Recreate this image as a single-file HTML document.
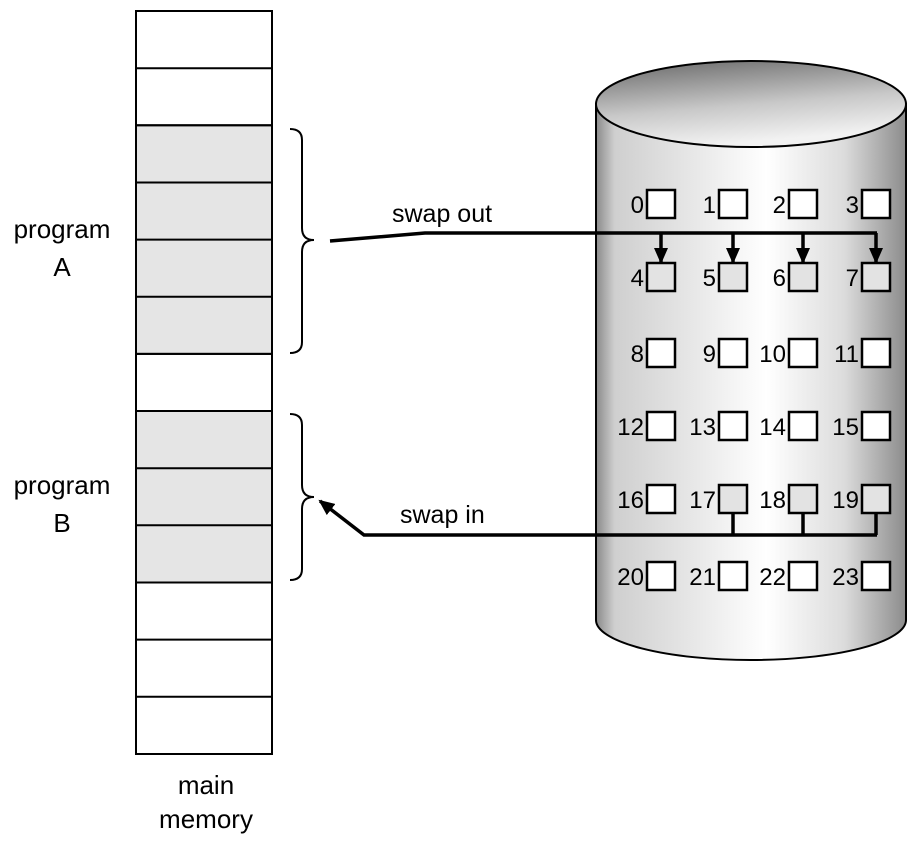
<!DOCTYPE html>
<html><head><style>body{margin:0;background:#fff}</style></head><body>
<svg width="915" height="839" viewBox="0 0 915 839" xmlns="http://www.w3.org/2000/svg" font-family="Liberation Sans, sans-serif">
<defs>
<linearGradient id="body" x1="0" x2="1" y1="0" y2="0">
<stop offset="0" stop-color="#8a8a8a"/><stop offset="0.06" stop-color="#cfcfcf"/><stop offset="0.3" stop-color="#e6e6e6"/><stop offset="0.55" stop-color="#ffffff"/><stop offset="0.8" stop-color="#dcdcdc"/><stop offset="1" stop-color="#8c8c8c"/>
</linearGradient>
<linearGradient id="top" x1="0" x2="0.3" y1="0" y2="1">
<stop offset="0" stop-color="#666"/><stop offset="0.6" stop-color="#c8c8c8"/><stop offset="1" stop-color="#f2f2f2"/>
</linearGradient>
<marker id="ah" markerWidth="16" markerHeight="14" refX="14" refY="7" orient="auto" markerUnits="userSpaceOnUse"><path d="M0,0 L16,7 L0,14z" fill="#000"/></marker>
</defs>
<g stroke="#000" stroke-width="2">
<rect x="136" y="11" width="136" height="743" fill="#fff"/>
<rect x="136" y="125.3" width="136" height="228.6" fill="#e5e5e5"/>
<rect x="136" y="411" width="136" height="171.5" fill="#e5e5e5"/>
<path d="M136 68.2H272M136 125.3H272M136 182.5H272M136 239.6H272M136 296.8H272M136 353.9H272M136 411H272M136 468.2H272M136 525.3H272M136 582.5H272M136 639.6H272M136 696.8H272" fill="none"/>
</g>
<g font-size="26" text-anchor="middle">
<text x="62" y="238">program</text><text x="62" y="276">A</text>
<text x="62" y="494">program</text><text x="62" y="532">B</text>
<text x="206" y="794">main</text><text x="206" y="828">memory</text>
</g>
<g fill="none" stroke="#000" stroke-width="2">
<path d="M290 129 Q302 129 302 140 V228 Q302 240 314 240 Q302 240 302 252 V342 Q302 353 290 353"/>
<path d="M290 414 Q302 414 302 425 V485 Q302 497 314 497 Q302 497 302 509 V569 Q302 580 290 580"/>
</g>
<path d="M596 104 V620 A155 40 0 0 0 906 620 V104 Z" fill="url(#body)" stroke="#000" stroke-width="2"/>
<ellipse cx="751" cy="104" rx="155" ry="43" fill="url(#top)" stroke="#000" stroke-width="2"/>
<g stroke="#000" stroke-width="2.5">
<g fill="#fff">
<rect x="647" y="190" width="28" height="28"/><rect x="719" y="190" width="28" height="28"/><rect x="789" y="190" width="28" height="28"/><rect x="862" y="190" width="28" height="28"/>
<rect x="647" y="339" width="28" height="28"/><rect x="719" y="339" width="28" height="28"/><rect x="789" y="339" width="28" height="28"/><rect x="862" y="339" width="28" height="28"/>
<rect x="647" y="412" width="28" height="28"/><rect x="719" y="412" width="28" height="28"/><rect x="789" y="412" width="28" height="28"/><rect x="862" y="412" width="28" height="28"/>
<rect x="647" y="485" width="28" height="28"/>
<rect x="647" y="562" width="28" height="28"/><rect x="719" y="562" width="28" height="28"/><rect x="789" y="562" width="28" height="28"/><rect x="862" y="562" width="28" height="28"/>
</g>
<g fill="#e3e3e3">
<rect x="647" y="263" width="28" height="28"/><rect x="719" y="263" width="28" height="28"/><rect x="789" y="263" width="28" height="28"/><rect x="862" y="263" width="28" height="28"/>
<rect x="719" y="485" width="28" height="28"/><rect x="789" y="485" width="28" height="28"/><rect x="862" y="485" width="28" height="28"/>
</g>
</g>
<g font-size="24" text-anchor="end">
<text x="644" y="213">0</text><text x="716" y="213">1</text><text x="786" y="213">2</text><text x="859" y="213">3</text>
<text x="644" y="286">4</text><text x="716" y="286">5</text><text x="786" y="286">6</text><text x="859" y="286">7</text>
<text x="644" y="362">8</text><text x="716" y="362">9</text><text x="786" y="362">10</text><text x="859" y="362">11</text>
<text x="644" y="435">12</text><text x="716" y="435">13</text><text x="786" y="435">14</text><text x="859" y="435">15</text>
<text x="644" y="508">16</text><text x="716" y="508">17</text><text x="786" y="508">18</text><text x="859" y="508">19</text>
<text x="644" y="585">20</text><text x="716" y="585">21</text><text x="786" y="585">22</text><text x="859" y="585">23</text>
</g>
<g fill="none" stroke="#000" stroke-width="3.5">
<path d="M330 241 L425 233 H877"/>
<path d="M661 233 V262" marker-end="url(#ah)"/>
<path d="M733 233 V262" marker-end="url(#ah)"/>
<path d="M803 233 V262" marker-end="url(#ah)"/>
<path d="M876 233 V262" marker-end="url(#ah)"/>
<path d="M733 513 V535 M803 513 V535 M876 513 V535"/>
<path d="M877 535 H364 L320 501" marker-end="url(#ah)"/>
</g>
<text x="392" y="222" font-size="25">swap out</text>
<text x="400" y="523" font-size="25">swap in</text>
</svg>
</body></html>
